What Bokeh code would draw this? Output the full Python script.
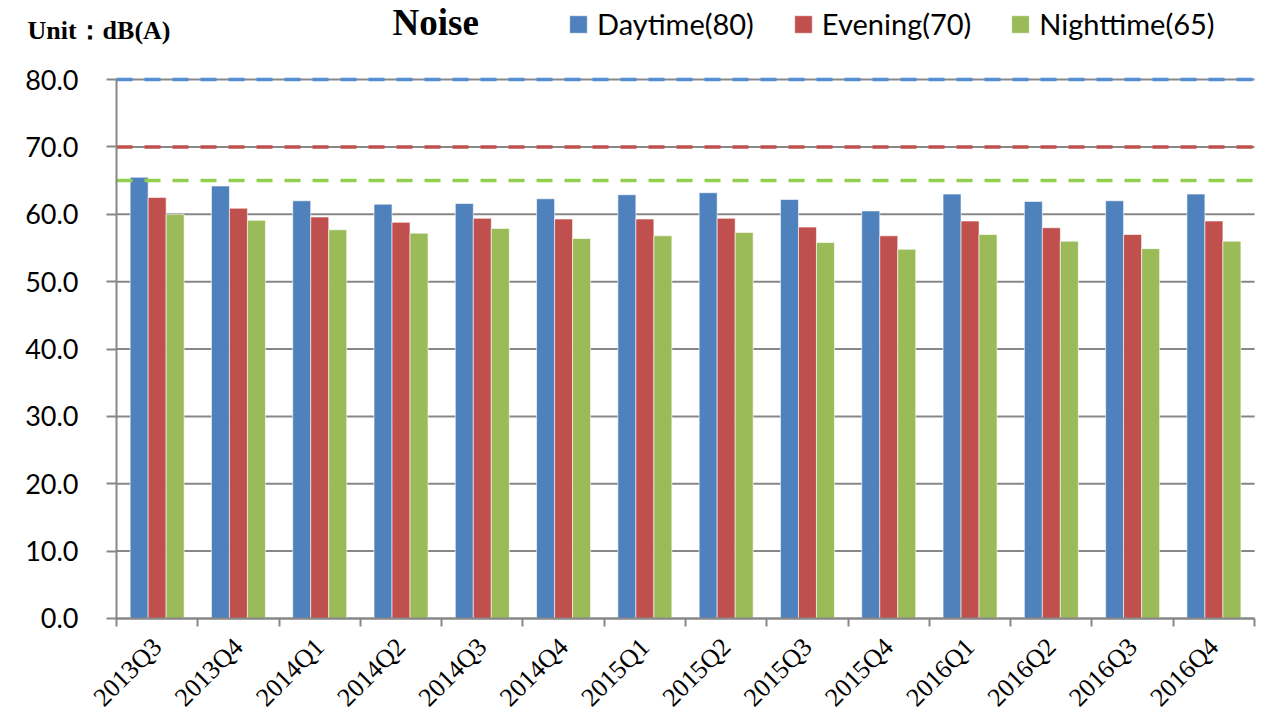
import numpy as np
from bokeh.plotting import figure
from bokeh.models import (ColumnDataSource, Range1d, FixedTicker, CustomJSTickFormatter,
                          NumeralTickFormatter, Label)
from bokeh.transform import dodge
from bokeh.embed import file_html
from bokeh.resources import INLINE

quarters = ["2013Q3", "2013Q4", "2014Q1", "2014Q2", "2014Q3", "2014Q4", "2015Q1",
            "2015Q2", "2015Q3", "2015Q4", "2016Q1", "2016Q2", "2016Q3", "2016Q4"]
daytime = [65.5, 64.2, 62.0, 61.5, 61.6, 62.3, 62.9, 63.2, 62.2, 60.5, 63.0, 61.9, 62.0, 63.0]
evening = [62.5, 60.9, 59.6, 58.8, 59.4, 59.3, 59.3, 59.4, 58.1, 56.8, 59.0, 58.0, 57.0, 59.0]
nighttime = [60.0, 59.1, 57.7, 57.2, 57.9, 56.4, 56.8, 57.3, 55.8, 54.8, 57.0, 56.0, 54.9, 56.0]
limits = [80, 70, 65]
series_names = ["Daytime", "Evening", "Nighttime"]
bar_colors = ["#4F81BD", "#C0504D", "#9BBB59"]
limit_colors = ["#558ED5", "#C0504D", "#92D050"]
y_ticks = [0, 10, 20, 30, 40, 50, 60, 70, 80]

n = len(quarters)
src = ColumnDataSource(dict(x=np.arange(n) + 0.5, d=daytime, e=evening, n=nighttime))

# the frame covers the whole canvas; axes are pinned at x=0 / y=0 with bounds
p = figure(width=1263, height=714, output_backend="svg", toolbar_location=None,
           x_range=Range1d(-1.427, 14.11), y_range=Range1d(-14.25, 91.73),
           min_border_left=0, min_border_right=0, min_border_top=0, min_border_bottom=0)
p.outline_line_color = None
p.background_fill_color = "white"
gray = "#878787"

# horizontal grid lines between the axis and the last category
p.segment(x0=0, x1=n, y0=y_ticks, y1=y_ticks, line_color=gray, line_width=2)

bw = 0.2214
for field, off, col, name, lim in zip(["d", "e", "n"], [-bw, 0, bw], bar_colors, series_names, limits):
    p.vbar(x=dodge("x", off), top=field, width=bw, bottom=0, source=src,
           fill_color=col, line_color="white", line_alpha=0.6, line_width=1,
           legend_label=f"{name}({lim})")

for lim, col in zip(limits, limit_colors):
    p.segment(x0=0, x1=n, y0=lim, y1=lim, line_color=col, line_dash="16 12", line_width=3.5)

# axes
p.xaxis.fixed_location = 0
p.xaxis.bounds = (0, n)
p.xaxis.ticker = FixedTicker(ticks=list(np.arange(n) + 0.5), minor_ticks=list(range(n + 1)))
p.xaxis.formatter = CustomJSTickFormatter(args=dict(labels=quarters),
                                          code="return labels[Math.floor(tick)] || ''")
p.xaxis.major_tick_out = 0
p.xaxis.major_tick_in = 0
p.xaxis.minor_tick_out = 8
p.xaxis.minor_tick_in = 0
p.xaxis.minor_tick_line_color = gray
p.xaxis.minor_tick_line_width = 2
p.xaxis.axis_line_color = gray
p.xaxis.axis_line_width = 2
p.xaxis.major_label_orientation = np.pi / 4
p.xaxis.major_label_text_font = "Liberation Serif"
p.xaxis.major_label_text_font_size = "26px"
p.xaxis.major_label_text_color = "black"
p.xaxis.major_label_standoff = 16

p.yaxis.fixed_location = 0
p.yaxis.bounds = (0, 80)
p.yaxis.ticker = FixedTicker(ticks=y_ticks)
p.yaxis.formatter = NumeralTickFormatter(format="0.0")
p.yaxis.major_tick_out = 10
p.yaxis.major_tick_in = 0
p.yaxis.minor_tick_line_color = None
p.yaxis.major_tick_line_color = gray
p.yaxis.major_tick_line_width = 2
p.yaxis.axis_line_color = gray
p.yaxis.axis_line_width = 2
p.yaxis.major_label_text_font = "Lato"
p.yaxis.major_label_text_font_size = "27px"
p.yaxis.major_label_text_color = "black"
p.yaxis.major_label_standoff = 28

p.xgrid.grid_line_color = None
p.ygrid.grid_line_color = None

# legend
lg = p.legend[0]
lg.orientation = "horizontal"
lg.location = (567, 673)
lg.padding = 0
lg.margin = 0
lg.spacing = 38
lg.label_standoff = 8
lg.glyph_width = 22
lg.glyph_height = 22
lg.label_text_font = "Lato"
lg.label_text_font_size = "29px"
lg.label_text_color = "black"
lg.border_line_color = None
lg.background_fill_alpha = 0

# title and unit
p.add_layout(Label(x=392, y=692, x_units="screen", y_units="screen", text="Noise",
                   text_font="Liberation Serif", text_font_style="bold",
                   text_font_size="37px", text_color="black", text_baseline="alphabetic"))
p.add_layout(Label(x=27, y=684, x_units="screen", y_units="screen", text="Unit：dB(A)",
                   text_font="Liberation Serif", text_font_style="bold",
                   text_font_size="26px", text_color="black", text_baseline="alphabetic"))

open("out.html", "w").write(file_html(p, INLINE))
